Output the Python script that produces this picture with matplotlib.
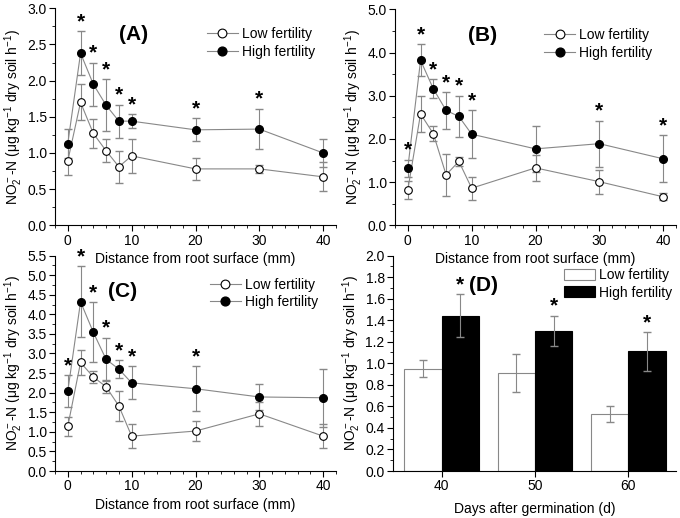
import numpy as np
import matplotlib
matplotlib.use('Agg')
import matplotlib.pyplot as plt
from matplotlib.ticker import MultipleLocator, FormatStrFormatter

plt.rcParams['font.family'] = ['Liberation Sans', 'DejaVu Sans']
plt.rcParams['mathtext.fontset'] = 'custom'
plt.rcParams['mathtext.rm'] = 'Liberation Sans'
plt.rcParams['mathtext.it'] = 'Liberation Sans:italic'

distance = [0, 2, 4, 6, 8, 10, 20, 30, 40]

# panel A
a_low = [0.89, 1.70, 1.27, 1.03, 0.81, 0.96, 0.78, 0.78, 0.67]
a_low_err = [0.20, 0.25, 0.20, 0.16, 0.22, 0.24, 0.15, 0.06, 0.20]
a_high = [1.13, 2.38, 1.95, 1.66, 1.44, 1.44, 1.32, 1.33, 1.00]
a_high_err = [0.20, 0.30, 0.30, 0.36, 0.23, 0.10, 0.16, 0.28, 0.20]
a_stars = [2, 4, 6, 8, 10, 20, 30]

# panel B
b_low = [0.82, 2.58, 2.12, 1.17, 1.48, 0.86, 1.33, 1.01, 0.66]
b_low_err = [0.20, 0.42, 0.17, 0.49, 0.10, 0.27, 0.30, 0.28, 0.08]
b_high = [1.32, 3.82, 3.16, 2.66, 2.52, 2.11, 1.77, 1.89, 1.54]
b_high_err = [0.20, 0.37, 0.22, 0.42, 0.48, 0.56, 0.53, 0.53, 0.54]
b_stars = [0, 2, 4, 6, 8, 10, 30, 40]

# panel C
c_low = [1.14, 2.77, 2.40, 2.15, 1.66, 0.89, 1.02, 1.46, 0.89]
c_low_err = [0.24, 0.33, 0.15, 0.17, 0.38, 0.30, 0.26, 0.30, 0.30]
c_high = [2.04, 4.32, 3.54, 2.85, 2.60, 2.25, 2.10, 1.89, 1.87]
c_high_err = [0.40, 0.90, 0.77, 0.55, 0.23, 0.42, 0.58, 0.32, 0.74]
c_stars = [0, 2, 4, 6, 8, 10, 20]

# panel D
days = [40, 50, 60]
d_low = [0.95, 0.91, 0.53]
d_low_err = [0.08, 0.18, 0.075]
d_high = [1.44, 1.30, 1.11]
d_high_err = [0.20, 0.14, 0.18]

ylabel = 'NO$_2^-$-N (μg kg$^{-1}$ dry soil h$^{-1}$)'
FS = 10
GREY = '#888888'


def style_axis(ax):
    ax.patch.set_visible(False)
    ax.spines['top'].set_visible(False)
    ax.spines['right'].set_visible(False)
    ax.tick_params(which='major', direction='out', length=4, pad=2, labelsize=FS)
    ax.tick_params(which='minor', direction='out', length=2)
    ax.yaxis.set_major_formatter(FormatStrFormatter('%.1f'))
    ax.set_ylabel(ylabel, fontsize=FS, labelpad=2)


def add_star(ax, x, top):
    ax.annotate('*', (x, top), xytext=(0, 0), textcoords='offset points',
                ha='center', va='bottom', fontsize=15, fontweight='bold')


def line_panel(ax, low, low_err, high, high_err, stars, ymax, ystep,
               label, label_xy, leg_anchor):
    for vals, errs in [(low, low_err), (high, high_err)]:
        ax.errorbar(distance, vals, yerr=errs, fmt='none', ecolor=GREY,
                    elinewidth=0.8, capsize=3, zorder=2)
    ax.plot(distance, low, color=GREY, lw=0.8, marker='o', ms=5.5,
            mfc='white', mec='black', mew=0.8, label='Low fertility', zorder=3)
    ax.plot(distance, high, color=GREY, lw=0.8, marker='o', ms=5.5,
            mfc='black', mec='black', label='High fertility', zorder=3)
    for x in stars:
        i = distance.index(x)
        add_star(ax, x, high[i] + high_err[i])
    ax.set_xlim(-2, 42)
    ax.set_ylim(0, ymax)
    ax.xaxis.set_major_locator(MultipleLocator(10))
    ax.xaxis.set_minor_locator(MultipleLocator(2))
    ax.yaxis.set_major_locator(MultipleLocator(ystep))
    ax.yaxis.set_minor_locator(MultipleLocator(ystep / 2))
    ax.set_xlabel('Distance from root surface (mm)', fontsize=FS, labelpad=3)
    style_axis(ax)
    ax.text(label_xy[0], label_xy[1], label, transform=ax.transAxes,
            fontsize=15, fontweight='bold', ha='center', va='center')
    ax.legend(loc='upper right', bbox_to_anchor=leg_anchor, frameon=False,
              fontsize=FS, handlelength=2.2, handletextpad=0.3,
              labelspacing=0.25, markerscale=1.15)


fig = plt.figure(figsize=(6.8, 5.18), dpi=100)
ax_a = fig.add_axes([0.0809, 0.565, 0.4132, 0.419])
ax_b = fig.add_axes([0.5809, 0.565, 0.4132, 0.417])
ax_c = fig.add_axes([0.0809, 0.0907, 0.4132, 0.416])
ax_d = fig.add_axes([0.578, 0.0907, 0.416, 0.416])

line_panel(ax_a, a_low, a_low_err, a_high, a_high_err, a_stars, 3.0, 0.5,
           '(A)', (0.28, 0.88), (0.97, 0.97))
line_panel(ax_b, b_low, b_low_err, b_high, b_high_err, b_stars, 5.0, 1.0,
           '(B)', (0.31, 0.88), (0.96, 0.97))
line_panel(ax_c, c_low, c_low_err, c_high, c_high_err, c_stars, 5.5, 0.5,
           '(C)', (0.242, 0.835), (0.98, 0.955))

# panel D bars
w = 4
x_low = [d - w / 2 for d in days]
x_high = [d + w / 2 for d in days]
ax_d.bar(x_low, d_low, width=w, color='white', edgecolor=GREY, lw=0.8,
         yerr=d_low_err, ecolor=GREY, capsize=3, error_kw={'elinewidth': 0.8},
         label='Low fertility')
ax_d.bar(x_high, d_high, width=w, color='black', edgecolor='black', lw=0.8,
         yerr=d_high_err, ecolor=GREY, capsize=3, error_kw={'elinewidth': 0.8},
         label='High fertility')
for i, x in enumerate(x_high):
    add_star(ax_d, x, d_high[i] + d_high_err[i])
ax_d.set_xlim(34.8, 65.1)
ax_d.set_ylim(0, 2.0)
ax_d.set_xticks(days)
ax_d.yaxis.set_major_locator(MultipleLocator(0.2))
ax_d.yaxis.set_minor_locator(MultipleLocator(0.1))
ax_d.set_xlabel('Days after germination (d)', fontsize=FS, labelpad=6)
style_axis(ax_d)
ax_d.text(0.32, 0.863, '(D)', transform=ax_d.transAxes, fontsize=15,
          fontweight='bold', ha='center', va='center')
ax_d.legend(loc='upper right', bbox_to_anchor=(1.03, 1.0), frameon=False,
            fontsize=FS, handlelength=2.2, handleheight=0.8, handletextpad=0.3,
            labelspacing=0.25)

fig.savefig('out.png', dpi=100)
